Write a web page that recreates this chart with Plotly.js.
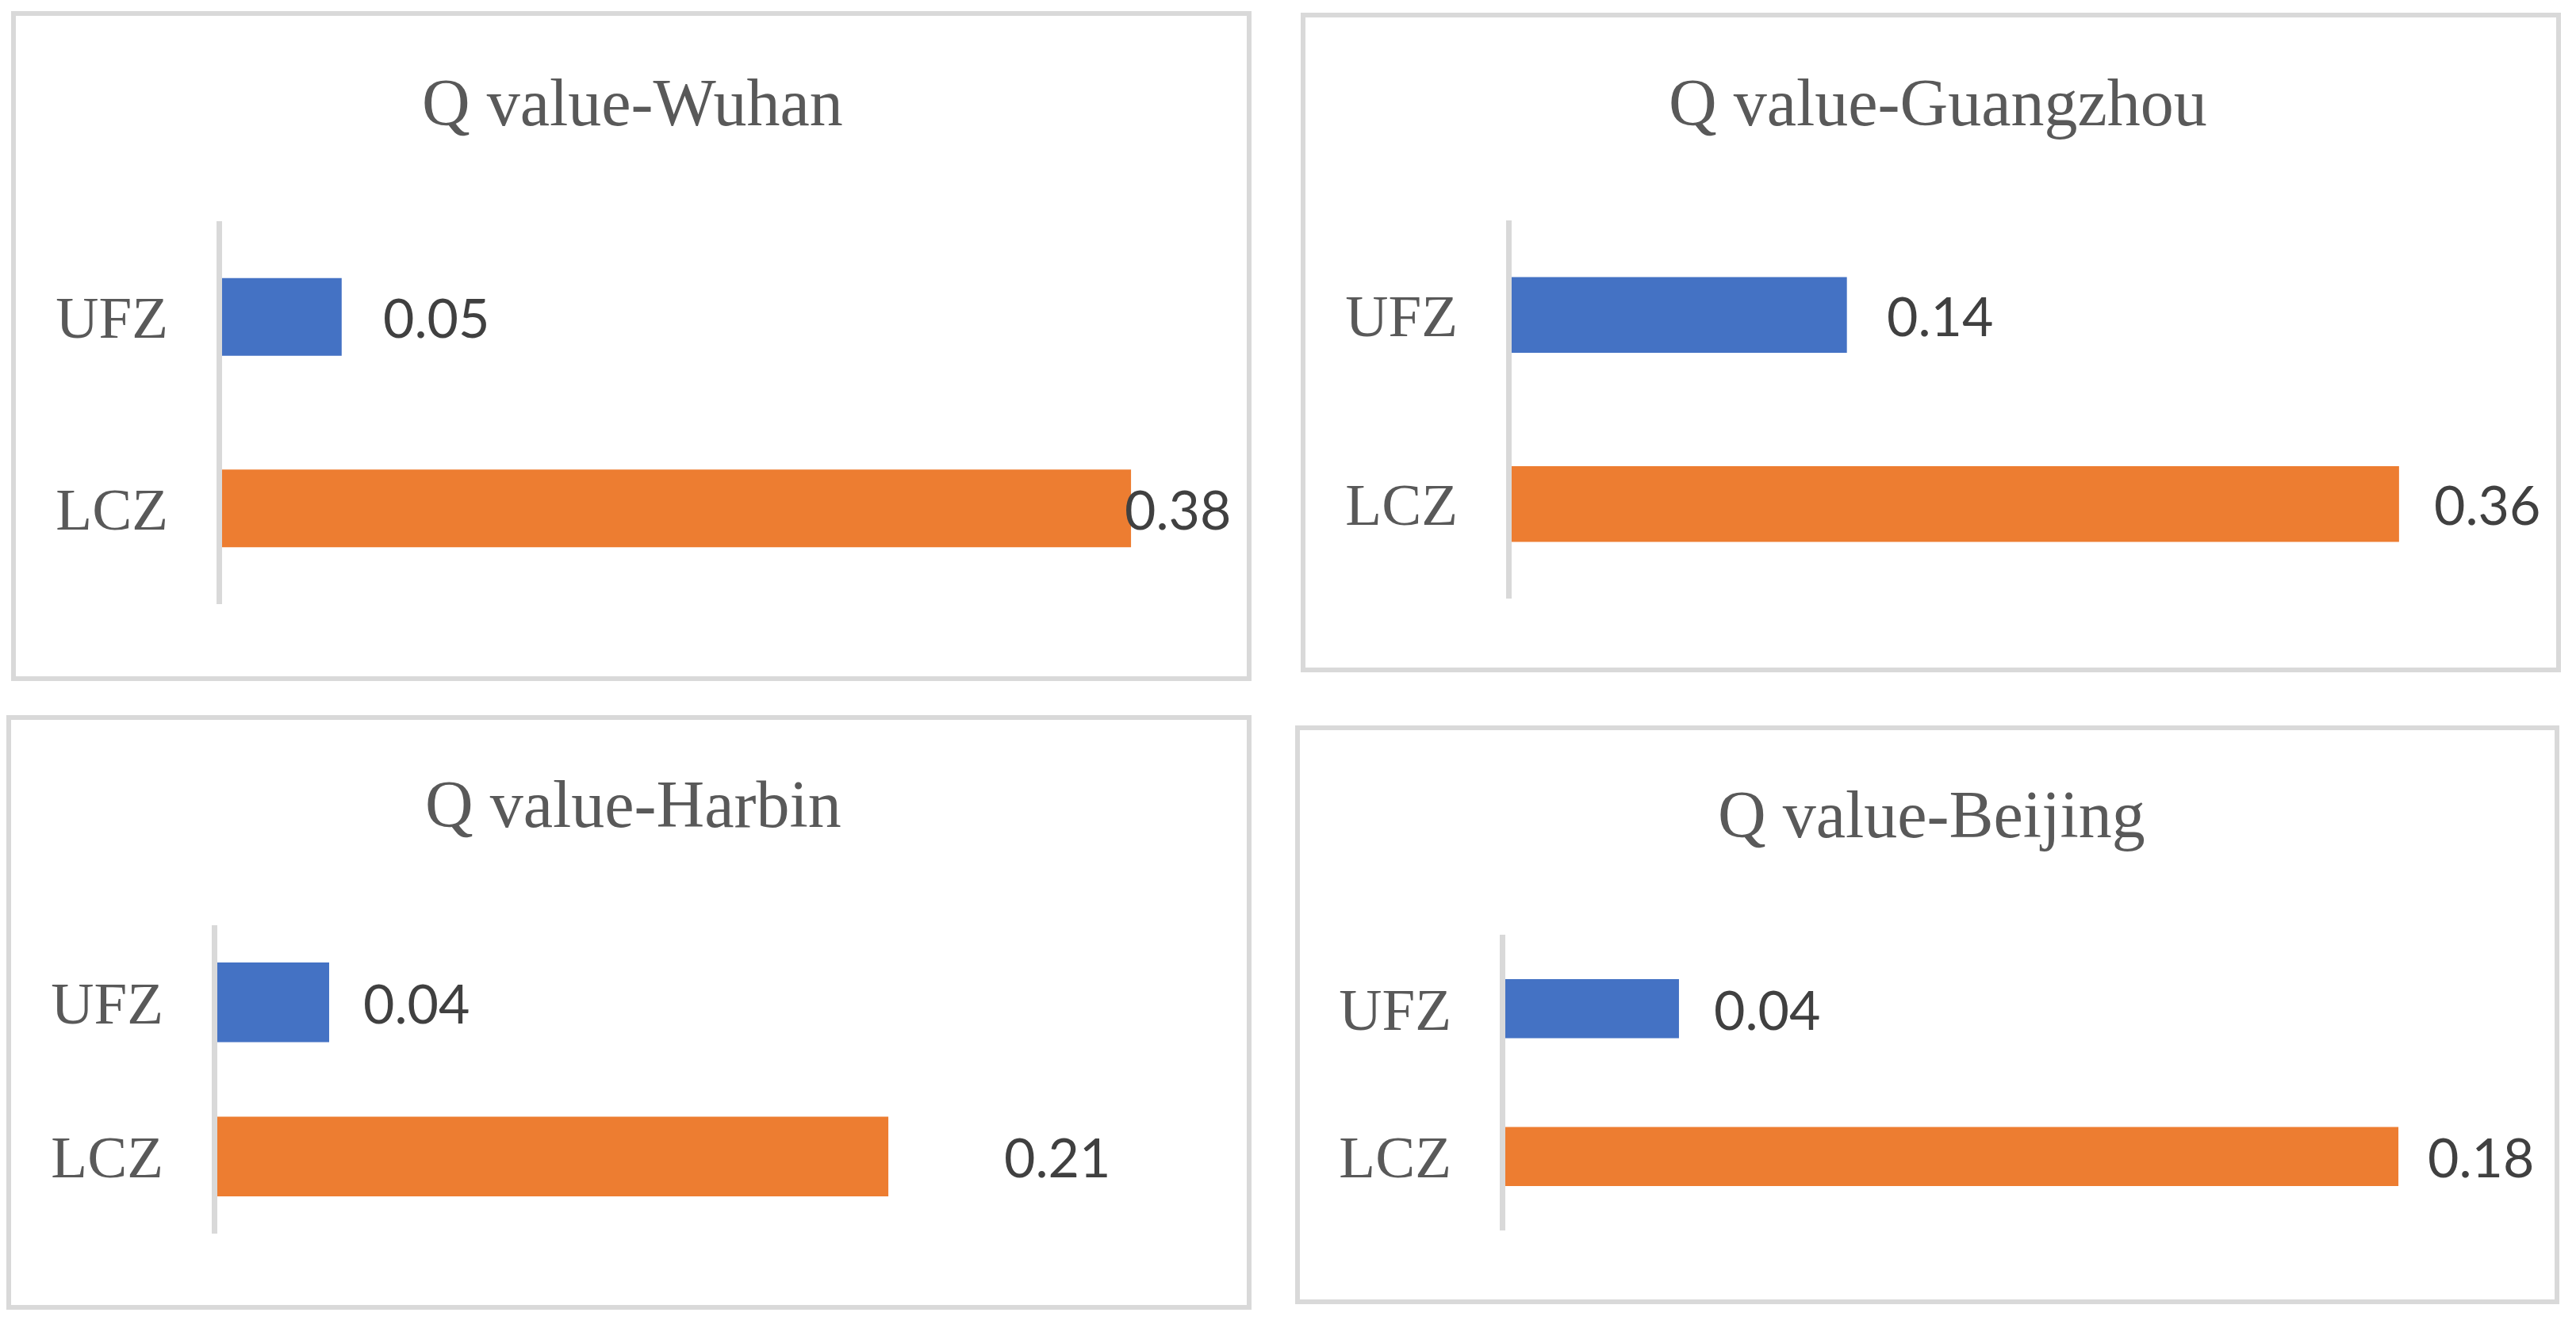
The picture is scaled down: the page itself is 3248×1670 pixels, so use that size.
<!DOCTYPE html>
<html>
<head>
<meta charset="utf-8">
<script src="https://cdn.plot.ly/plotly-3.0.1.min.js"></script>
<style>
html,body{margin:0;padding:0;background:#ffffff;}
#chart{width:3248px;height:1670px;}
</style>
</head>
<body>
<div id="chart"></div>
<script>
// ---- data ----
const cities = ['Wuhan', 'Guangzhou', 'Harbin', 'Beijing'];
const categories = ['UFZ', 'LCZ'];
const ufzValues = [0.05, 0.136, 0.035, 0.035];
const lczValues = [0.38, 0.36, 0.21, 0.18];
const titlePrefix = 'Q value-';

// ---- styling / layout config (pixel geometry) ----
const W = 3248, H = 1670;
const colors = {UFZ: '#4472c4', LCZ: '#ed7d31'};
const panels = [
  {box: [17, 17, 1575, 856],    x0: 280,  y: [279, 762],   scale: 3016, xmax: 0.42, barW: 0.406, title: [797, 129],   shift: [50, -10]},
  {box: [1643, 19, 3226, 845],  x0: 1906, y: [278, 755],   scale: 3108, xmax: 0.40, barW: 0.40,  title: [2443, 129],  shift: [48, 42]},
  {box: [11, 905, 1575, 1649],  x0: 274,  y: [1167, 1556], scale: 4029, xmax: 0.30, barW: 0.517, title: [798, 1015],  shift: [41, 144]},
  {box: [1636, 918, 3224, 1642],x0: 1898, y: [1179, 1552], scale: 6256, xmax: 0.20, barW: 0.40,  title: [2435, 1027], shift: [42, 35]}
];

const px = x => x / W;
const py = y => 1 - y / H;

const data = [];
const layout = {
  width: W, height: H,
  margin: {l: 0, r: 0, t: 0, b: 0},
  paper_bgcolor: '#ffffff',
  plot_bgcolor: 'rgba(0,0,0,0)',
  showlegend: false,
  shapes: [],
  annotations: []
};

cities.forEach((city, i) => {
  const p = panels[i];
  const n = i === 0 ? '' : String(i + 1);
  const xa = 'x' + n, ya = 'y' + n;
  const vals = [ufzValues[i], lczValues[i]];

  data.push({
    type: 'bar',
    orientation: 'h',
    x: vals,
    y: categories,
    xaxis: xa, yaxis: ya,
    width: p.barW,
    marker: {color: categories.map(c => colors[c])},
    hoverinfo: 'x+y'
  });

  const x1 = p.x0 + p.xmax * p.scale;
  layout['xaxis' + n] = {
    domain: [px(p.x0), px(x1)],
    range: [0, p.xmax],
    anchor: ya,
    visible: false,
    fixedrange: true
  };
  layout['yaxis' + n] = {
    domain: [py(p.y[1]), py(p.y[0])],
    anchor: xa,
    type: 'category',
    categoryarray: categories,
    range: [1.5, -0.5],
    showline: true,
    linecolor: '#d9d9d9',
    linewidth: 7,
    showgrid: false,
    zeroline: false,
    ticks: 'outside',
    ticklen: 46,
    tickcolor: 'rgba(0,0,0,0)',
    tickfont: {family: 'Liberation Serif, Times New Roman, serif', size: 75, color: '#595959'},
    fixedrange: true
  };

  // panel border
  layout.shapes.push({
    type: 'rect', xref: 'paper', yref: 'paper',
    x0: px(p.box[0]), x1: px(p.box[2]), y0: py(p.box[3]), y1: py(p.box[1]),
    line: {color: '#d9d9d9', width: 6},
    fillcolor: 'rgba(0,0,0,0)', layer: 'below'
  });

  // panel title
  layout.annotations.push({
    xref: 'paper', yref: 'paper',
    x: px(p.title[0]), y: py(p.title[1]),
    xanchor: 'center', yanchor: 'middle',
    text: titlePrefix + city,
    showarrow: false,
    font: {family: 'Liberation Serif, Times New Roman, serif', size: 84, color: '#595959'}
  });

  // data labels
  categories.forEach((c, k) => {
    layout.annotations.push({
      xref: xa, yref: ya,
      x: vals[k], y: c,
      xanchor: 'left', yanchor: 'middle',
      xshift: p.shift[k],
      text: vals[k].toFixed(2),
      showarrow: false,
      font: {family: 'Lato, Open Sans, sans-serif', size: 68, color: '#404040'}
    });
  });
});

Plotly.newPlot('chart', data, layout, {displayModeBar: false, staticPlot: true});
</script>
</body>
</html>
